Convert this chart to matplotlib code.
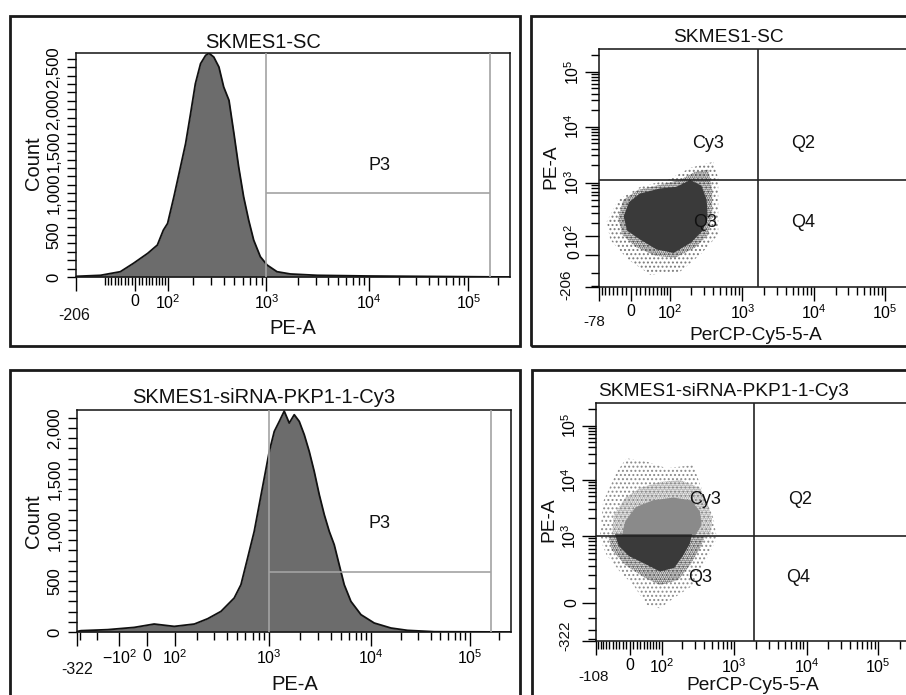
import numpy as np
import matplotlib
matplotlib.use("Agg")
import matplotlib.pyplot as plt
from matplotlib.ticker import FixedLocator, FuncFormatter
from matplotlib.patches import Rectangle

plt.rcParams['font.family'] = ['Liberation Sans', 'DejaVu Sans']
plt.rcParams['mathtext.fontset'] = 'custom'
plt.rcParams['mathtext.rm'] = 'Liberation Sans'
plt.rcParams['mathtext.it'] = 'Liberation Sans:italic'
plt.rcParams['mathtext.bf'] = 'Liberation Sans:bold'
plt.rcParams['hatch.linewidth'] = 0.9

TOP = 262143

# ---- data ----
# histogram SKMES1-SC (PE-A value, count)
sc_pe = [-206, -106, -43, -5, 36, 65, 84, 98, 120, 145, 166, 188, 211, 238, 267,
         288, 320, 358, 397, 445, 495, 548, 610, 680, 758, 876, 1015, 1262, 1697,
         3097, 9650, TOP]
sc_count = [8, 20, 63, 163, 282, 381, 559, 639, 956, 1313, 1591, 1948, 2305, 2543,
            2642, 2668, 2622, 2503, 2265, 2106, 1710, 1313, 956, 678, 440, 242, 143,
            63, 36, 20, 12, 0]

# histogram SKMES1-siRNA-PKP1-1-Cy3
kd_pe = [-322, -294, -149, -45, 25, 99, 187, 260, 352, 470, 544, 628, 724, 807, 900,
         1004, 1120, 1250, 1394, 1558, 1741, 1947, 2178, 2436, 2726, 3056, 3424,
         3836, 4294, 4812, 5400, 6300, 7940, 10790, 15900, 23400, 43600, TOP]
kd_count = [5, 13, 23, 45, 78, 55, 78, 130, 202, 333, 464, 725, 986, 1248, 1509,
            1770, 1966, 2064, 2165, 2048, 2130, 2064, 1934, 1770, 1574, 1346, 1150,
            986, 856, 660, 464, 300, 170, 88, 39, 16, 3, 0]

p3_low, p3_high = 1000, 165000
sc_p3_level, kd_p3_level = 1000, 590

# dot plot SKMES1-SC (PerCP-Cy5-5-A, PE-A): outer sparse fringe, dense halo, solid core
sc_fringe_x = [-56, -28, 20, 94, 195, 400, 467, 467, 467, 267, 141, 43, -6, -47]
sc_fringe_y = [209, 505, 845, 1115, 1808, 2310, 1207, 417, 111, -1, -94, -113, -27, 80]
sc_halo_x = [-28, -17, 15, 69, 141, 227, 342, 388, 388, 342, 227, 120, 55, 9, -19]
sc_halo_y = [248, 505, 750, 916, 1115, 1540, 1680, 750, 280, 111, 36, -17, -6, 41, 111]
sc_core_x = [-13, -2, 20, 69, 127, 195, 267, 312, 322, 280, 195, 113, 60, 20, -6]
sc_core_y = [261, 447, 615, 750, 802, 1042, 854, 505, 261, 145, 70, 16, 34, 90, 145]
sc_quad = (1640, 1100)

# dot plot SKMES1-siRNA-PKP1-1-Cy3
kd_fringe_x = [-93, -81, -37, -9, 49, 121, 287, 352, 529, 587, 432, 287, 152, 94,
               49, 10, -28, -69]
kd_fringe_y = [897, 3996, 14100, 24860, 21530, 16290, 18720, 8040, 2015, 897, 406,
               118, 28, -37, -15, 118, 235, 467]
kd_halo_up_x = [-52, -46, -13, 29, 94, 189, 352, 449, 508, 479]
kd_halo_up_y = [1000, 2314, 4690, 7100, 9130, 9930, 7100, 3475, 1886, 1000]
kd_halo_lo_x = [-64, -52, -13, 44, 94, 178, 260, 352, 411]
kd_halo_lo_y = [1000, 570, 313, 175, 118, 158, 313, 615, 1000]
kd_gray_x = [-18, -9, 19, 70, 152, 260, 335, 352, 287]
kd_gray_y = [1000, 1753, 3036, 3996, 4470, 3996, 2636, 1543, 1000]
kd_dark_x = [-37, -28, 0, 49, 94, 152, 200, 246, 260]
kd_dark_y = [1000, 687, 467, 336, 252, 292, 467, 738, 1000]
kd_quad = (1870, 1000)

decade_labels = {0: '0', 100: r'$\mathregular{10^{2}}$', 1000: r'$\mathregular{10^{3}}$',
                 10000: r'$\mathregular{10^{4}}$', 100000: r'$\mathregular{10^{5}}$',
                 -100: r'$\mathregular{-10^{2}}$'}


def logicle(w, top=TOP, m=4.5):
    ps = np.linspace(1.0001, 20, 40000)
    p = np.interp(w, 2 * ps * np.log(ps) / (ps + 1), ps)
    c = top * 10.0 ** (w - m)

    def inv(u):
        u = np.clip(np.asarray(u, float), -3, 7)
        d = np.abs(u - w)
        v = c * (10 ** d - p * p * 10 ** (-d / p) + p * p - 1)
        return np.where(u >= w, v, -v)

    grid = np.linspace(-2, 6, 40001)
    vals = inv(grid)

    def fwd(x):
        return np.interp(np.asarray(x, float), vals, grid)
    return fwd, inv


W_FIG, H_FIG = 906, 695
fig = plt.figure(figsize=(W_FIG / 100, H_FIG / 100), dpi=100)


def fx(px):
    return px / W_FIG


def fy(py):
    return 1 - py / H_FIG


def add_ax(l, t, r, b):
    return fig.add_axes([fx(l), fy(b), (r - l) / W_FIG, (b - t) / H_FIG])


def flow_axis(ax, which, w, lo, majors, fine_from=None, neg_minor=()):
    fwd, inv = logicle(w)
    minors = [k * 10 ** e for e in range(2, 6) for k in range(2, 10) if k * 10 ** e < TOP]
    minors += list(neg_minor)
    if fine_from is not None:
        minors += [v for v in range(fine_from, 100, 10) if v != 0]
    fmt = FuncFormatter(lambda v, pos: decade_labels.get(int(round(v)), '') if int(round(v)) in majors else '')
    if which == 'x':
        ax.set_xscale('function', functions=(fwd, inv))
        ax.set_xlim(lo, TOP)
        axis = ax.xaxis
    else:
        ax.set_yscale('function', functions=(fwd, inv))
        ax.set_ylim(lo, TOP)
        axis = ax.yaxis
    axis.set_major_locator(FixedLocator(list(majors) + [lo]))
    axis.set_major_formatter(fmt)
    axis.set_minor_locator(FixedLocator(minors))


def frame(l, t, r, b):
    fig.add_artist(Rectangle((fx(l), fy(b)), (r - l) / W_FIG, (b - t) / H_FIG,
                             transform=fig.transFigure, fill=False, lw=2.0,
                             ec='#1a1a1a', clip_on=False))


def ftext(px, py, s, size=13, rot=0, ha='center'):
    fig.text(fx(px), fy(py), s, ha=ha, va='center', fontsize=size, rotation=rot,
             color='#111111')


frame(10, 16, 520, 346)
frame(531, 16, 940, 346)
frame(10, 370, 520, 730)
frame(532, 370, 940, 730)


def hist_panel(box, pe, count, w, lo, majors, ymax, yticks, ylabels, level,
               fine_from=None, neg_minor=()):
    ax = add_ax(*box)
    ax.fill_between(pe, 0, count, color='#6c6c6c', lw=0, zorder=2)
    ax.plot(pe, count, color='#111111', lw=1.3, zorder=3)
    ax.axvline(p3_low, color='#a3a3a3', lw=1.2, zorder=4)
    ax.axvline(p3_high, color='#a3a3a3', lw=1.2, zorder=4)
    ax.hlines(level, p3_low, p3_high, color='#a3a3a3', lw=1.2, zorder=4)
    flow_axis(ax, 'x', w, lo, majors, fine_from, neg_minor)
    ax.set_ylim(0, ymax)
    ax.yaxis.set_major_locator(FixedLocator(yticks))
    ax.yaxis.set_major_formatter(FuncFormatter(lambda v, pos: ylabels[pos] if pos is not None and pos < len(ylabels) else ''))
    ax.yaxis.set_minor_locator(FixedLocator([v for v in range(100, int(ymax), 100) if v % 500]))
    ax.tick_params(axis='x', which='major', length=10, width=1.0, pad=2, labelsize=11.5)
    ax.tick_params(axis='x', which='minor', length=6, width=1.0)
    ax.tick_params(axis='y', which='both', length=6.5, width=1.0, pad=4, labelsize=12,
                   labelrotation=90)
    for lbl in ax.get_yticklabels():
        lbl.set_va('center')
    for s in ax.spines.values():
        s.set_linewidth(1.1)
        s.set_color('#111111')
    return ax


def dot_panel(box, wx, xlo, xmaj, xfine, wy, ylo, ymaj, yneg, quad):
    ax = add_ax(*box)
    flow_axis(ax, 'x', wx, xlo, xmaj, xfine)
    flow_axis(ax, 'y', wy, ylo, ymaj, None, yneg)
    ax.axvline(quad[0], color='#222222', lw=1.2, zorder=5)
    ax.axhline(quad[1], color='#222222', lw=1.2, zorder=5)
    ax.tick_params(axis='both', which='major', length=10, width=1.0, pad=2, labelsize=11.5)
    ax.tick_params(axis='both', which='minor', length=5.5, width=1.0)
    ax.tick_params(axis='y', labelrotation=90)
    for lbl in ax.get_yticklabels():
        lbl.set_va('center')
    for s in ax.spines.values():
        s.set_linewidth(1.1)
        s.set_color('#111111')
    return ax


# ---- top left: histogram SKMES1-SC ----
hist_panel((76, 53, 510, 277), sc_pe, sc_count, 0.73, -206, [0, 100, 1000, 10000, 100000],
           2670, [0, 500, 1000, 1500, 2000, 2500], ['0', '500', '1,000', '1,500', '2,000', '2,500'],
           sc_p3_level, fine_from=-90)
ftext(263, 42, 'SKMES1-SC', 14.5)
ftext(33, 163, 'Count', 14.5, rot=90)
ftext(293, 328, 'PE-A', 14.5)
ftext(74, 316, '-206', 11.5)
ftext(380, 165, 'P3', 13)

# ---- bottom left: histogram SKMES1-siRNA-PKP1-1-Cy3 ----
hist_panel((77, 410, 511, 632), kd_pe, kd_count, 0.8, -322, [-100, 0, 100, 1000, 10000, 100000],
           2176, [0, 500, 1000, 1500, 2000], ['0', '500', '1,000', '1,500', '2,000'],
           kd_p3_level, neg_minor=(-200, -300))
ftext(264, 398, 'SKMES1-siRNA-PKP1-1-Cy3', 14.5)
ftext(34, 521, 'Count', 14.5, rot=90)
ftext(295, 685, 'PE-A', 14.5)
ftext(77, 670, '-322', 11.5)
ftext(380, 523, 'P3', 13)

# ---- top right: dot plot SKMES1-SC ----
ax = dot_panel((599, 49, 915, 287), 0.5, -78, [0, 100, 1000, 10000, 100000], -70,
               0.73, -206, [0, 100, 1000, 10000, 100000], (-100, -200), sc_quad)
ax.fill(sc_fringe_x, sc_fringe_y, facecolor='none', edgecolor='#7a7a7a', hatch='....',
        lw=0, zorder=2)
ax.fill(sc_halo_x, sc_halo_y, facecolor='none', edgecolor='#3c3c3c', hatch='........',
        lw=0, zorder=2)
ax.fill(sc_core_x, sc_core_y, facecolor='#3a3a3a', edgecolor='#3a3a3a', lw=2, zorder=3)
ftext(728, 38, 'SKMES1-SC', 13.8)
ftext(551, 167, 'PE-A', 13.8, rot=90)
ftext(756, 336, 'PerCP-Cy5-5-A', 13.8)
ftext(594, 322, '-78', 11)
ftext(566, 285, '-206', 11, rot=90)
ftext(708, 143, 'Cy3', 13)
ftext(803, 143, 'Q2', 13)
ftext(705, 222, 'Q3', 13)
ftext(803, 222, 'Q4', 13)

# ---- bottom right: dot plot SKMES1-siRNA-PKP1-1-Cy3 ----
ax = dot_panel((596, 403, 908, 641), 0.6, -108, [0, 100, 1000, 10000, 100000], -100,
               0.8, -322, [0, 1000, 10000, 100000], (100, -100, -200, -300), kd_quad)
ax.fill(kd_fringe_x, kd_fringe_y, facecolor='none', edgecolor='#8a8a8a', hatch='....',
        lw=0, zorder=2)
ax.fill(kd_halo_up_x, kd_halo_up_y, facecolor='none', edgecolor='#8c8c8c', hatch='........',
        lw=0, zorder=2)
ax.fill(kd_halo_lo_x, kd_halo_lo_y, facecolor='none', edgecolor='#3c3c3c', hatch='........',
        lw=0, zorder=2)
ax.fill(kd_gray_x, kd_gray_y, facecolor='#8a8a8a', edgecolor='#8a8a8a', lw=2, zorder=3)
ax.fill(kd_dark_x, kd_dark_y, facecolor='#3a3a3a', edgecolor='#3a3a3a', lw=2, zorder=3)
ftext(724, 392, 'SKMES1-siRNA-PKP1-1-Cy3', 13.8)
ftext(549, 520, 'PE-A', 13.8, rot=90)
ftext(753, 685, 'PerCP-Cy5-5-A', 13.8)
ftext(594, 677, '-108', 11)
ftext(565, 636, '-322', 11, rot=90)
ftext(705, 499, 'Cy3', 13)
ftext(800, 499, 'Q2', 13)
ftext(700, 578, 'Q3', 13)
ftext(798, 578, 'Q4', 13)

fig.savefig('out.png', dpi=100)
